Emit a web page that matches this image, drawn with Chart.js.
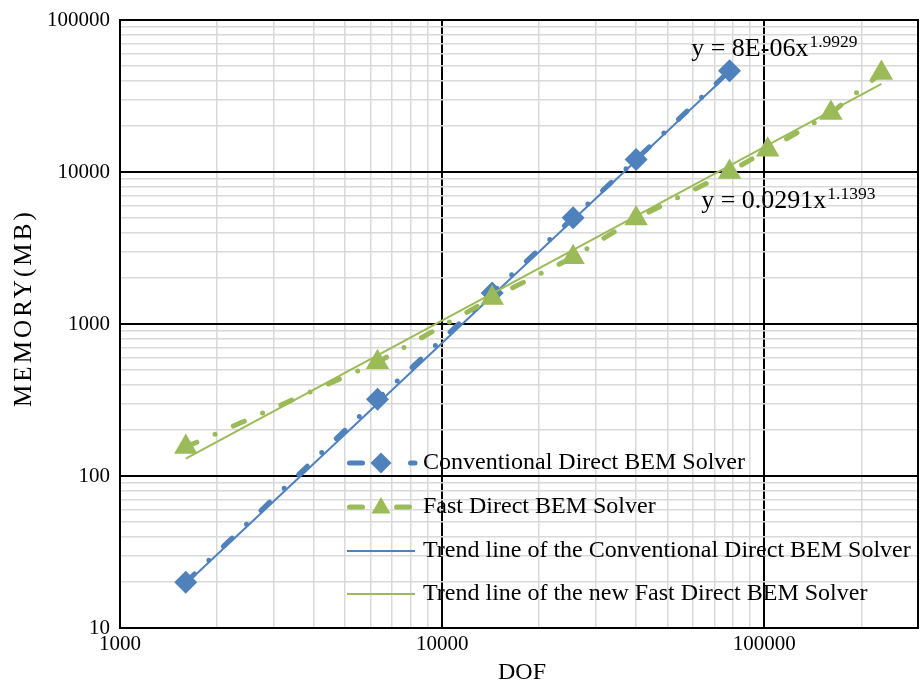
<!DOCTYPE html>
<html><head><meta charset="utf-8">
<script src="https://cdn.jsdelivr.net/npm/chart.js@4/dist/chart.umd.min.js"></script>
<style>html,body{margin:0;padding:0;background:#fff;}canvas{display:block;}</style>
</head><body>
<canvas id="c" width="923" height="684"></canvas>
<script>
// ---- data ----
const conventionalDOF = [1600, 6300, 14300, 25500, 40000, 78000];
const conventionalMB  = [20, 320, 1600, 5000, 12100, 46300];
const fastDOF = [1600, 6300, 14300, 25500, 40000, 78000, 102500, 161000, 231000];
const fastMB  = [155, 560, 1480, 2750, 4950, 10000, 14000, 24400, 44800];
const convTrendDOF = [1600, 78000];
const convTrendMB  = [19.5, 45000];
const fastTrendDOF = [1600, 231000];
const fastTrendMB  = [130, 38000];
const seriesNames = [
  'Conventional Direct BEM Solver',
  'Fast Direct BEM Solver',
  'Trend line of the Conventional Direct BEM Solver',
  'Trend line of the new Fast Direct BEM Solver'
];
const xTickLabels = ['1000', '10000', '100000'];
const yTickLabels = ['10', '100', '1000', '10000', '100000'];
const xTitle = 'DOF';
const yTitle = 'MEMORY(MB)';
const equationMain = ['y = 8E-06x', 'y = 0.0291x'];
const equationExp  = ['1.9929', '1.1393'];
const equationAnchorDOF = [59300, 63700];
const equationAnchorMB  = [57900, 5800];

// ---- styles ----
const BLUE = '#4F81BD', GREEN = '#9BBB59';
const SERIF = '"Liberation Serif", "Times New Roman", serif';
const DASH = [12, 20, 0, 20];

function pts(xs, ys) { return xs.map((x, i) => ({ x: x, y: ys[i] })); }
function isPow10(v) { const l = Math.log10(v); return Math.abs(l - Math.round(l)) < 1e-9; }
function gridValues(min, max) {
  const out = [];
  for (let e = Math.floor(Math.log10(min)); e <= Math.ceil(Math.log10(max)); e++) {
    for (let m = 1; m <= 9; m++) {
      const v = Math.round(m * Math.pow(10, e));
      if (v >= min - 1e-9 && v <= max + 1e-9) out.push(v);
    }
  }
  return out;
}
function zeroPad(s) { s.paddingLeft = 0; s.paddingRight = 0; s.paddingTop = 0; s.paddingBottom = 0; }

const datasets = [
  { label: seriesNames[0], data: pts(conventionalDOF, conventionalMB), showLine: true,
    borderColor: BLUE, backgroundColor: BLUE, borderWidth: 5, borderDash: DASH, borderCapStyle: 'round',
    pointStyle: 'rectRot', pointRadius: 11.5, pointBackgroundColor: BLUE, pointBorderWidth: 0, order: 4 },
  { label: seriesNames[1], data: pts(fastDOF, fastMB), showLine: true,
    borderColor: GREEN, backgroundColor: GREEN, borderWidth: 5, borderDash: DASH, borderCapStyle: 'round',
    pointStyle: 'triangle', pointRadius: 13.5, pointBackgroundColor: GREEN, pointBorderWidth: 0, order: 2 },
  { label: seriesNames[2], data: pts(convTrendDOF, convTrendMB), showLine: true,
    borderColor: BLUE, borderWidth: 2, pointRadius: 0, order: 3 },
  { label: seriesNames[3], data: pts(fastTrendDOF, fastTrendMB), showLine: true,
    borderColor: GREEN, borderWidth: 2, pointRadius: 0, order: 1 }
];
const legendDash = [[13, 24, 0, 24], [13, 17, 0, 17], [], []];

const frameAndText = {
  id: 'frameAndText',
  beforeDatasetsDraw(chart) {
    const { ctx, chartArea: a } = chart;
    ctx.save();
    ctx.strokeStyle = '#000';
    ctx.lineWidth = 2;
    ctx.strokeRect(a.left, a.top, a.right - a.left, a.bottom - a.top);
    ctx.restore();
  },
  afterDatasetsDraw(chart) {
    const { ctx } = chart;
    const xs = chart.scales.x, ys = chart.scales.y;
    ctx.save();
    // equations
    for (let i = 0; i < equationMain.length; i++) {
      const px = xs.getPixelForValue(equationAnchorDOF[i]);
      const py = ys.getPixelForValue(equationAnchorMB[i]);
      ctx.fillStyle = '#000';
      ctx.textBaseline = 'alphabetic';
      ctx.textAlign = 'left';
      ctx.font = '26px ' + SERIF;
      ctx.fillText(equationMain[i], px, py);
      const w = ctx.measureText(equationMain[i]).width;
      ctx.font = '17.5px ' + SERIF;
      ctx.fillText(equationExp[i], px + w + 1, py - 9);
    }
    // legend (inside plot area)
    const rowY = [463, 507, 551, 594];
    const x0 = 347, x1 = 415, mx = 381, tx = 423;
    datasets.forEach((ds, i) => {
      const y = rowY[i];
      ctx.save();
      ctx.strokeStyle = ds.borderColor;
      ctx.lineWidth = ds.borderWidth;
      ctx.lineCap = ds.borderCapStyle || 'butt';
      ctx.setLineDash(legendDash[i]);
      ctx.beginPath();
      ctx.moveTo(x0 + (ds.borderDash ? 2.5 : 0), y);
      ctx.lineTo(x1, y);
      ctx.stroke();
      ctx.restore();
      if (ds.pointRadius > 0) {
        ctx.save();
        ctx.fillStyle = ds.pointBackgroundColor;
        ctx.strokeStyle = ds.pointBackgroundColor;
        ctx.lineWidth = 0.01;
        Chart.helpers.drawPoint(ctx, { pointStyle: ds.pointStyle, radius: ds.pointStyle === 'triangle' ? 11 : 10.5, rotation: 0, borderWidth: 0 }, mx, y + (ds.pointStyle === 'triangle' ? 1 : 0));
        ctx.restore();
      }
      ctx.fillStyle = '#000';
      ctx.font = '24px ' + SERIF;
      ctx.textAlign = 'left';
      ctx.textBaseline = 'middle';
      ctx.fillText(ds.label, tx, y);
    });
    // axis titles
    ctx.fillStyle = '#000';
    ctx.font = '24px ' + SERIF;
    ctx.textAlign = 'center';
    ctx.textBaseline = 'middle';
    ctx.fillText(xTitle, 522, 673);
    ctx.save();
    ctx.font = '25px ' + SERIF;
    ctx.translate(24, 308);
    ctx.rotate(-Math.PI / 2);
    const w0 = ctx.measureText(yTitle).width;
    const sp = Math.max(0, (198 - w0) / yTitle.length);
    if ('letterSpacing' in ctx) {
      ctx.letterSpacing = sp.toFixed(2) + 'px';
      ctx.textAlign = 'left';
      ctx.fillText(yTitle, -99, 0);
    } else {
      ctx.fillText(yTitle, 0, 0);
    }
    ctx.restore();
    ctx.restore();
  }
};

const tickFont = { family: SERIF, size: 21 };
new Chart(document.getElementById('c'), {
  type: 'scatter',
  data: { datasets: datasets },
  options: {
    responsive: false,
    animation: false,
    events: [],
    layout: { autoPadding: false, padding: { left: 0, right: 5, top: 20, bottom: 0 } },
    scales: {
      x: {
        type: 'logarithmic', min: 1000, max: 300000,
        afterBuildTicks: s => { s.ticks = gridValues(s.min, s.max).map(v => ({ value: v, major: isPow10(v) })); },
        afterFit: s => { s.height = 56; zeroPad(s); },
        border: { display: false },
        grid: { drawTicks: false, color: c => isPow10(c.tick.value) ? '#000' : '#d9d9d9', lineWidth: c => isPow10(c.tick.value) ? 2 : 1.5 },
        ticks: { autoSkip: false, maxRotation: 0, minRotation: 0, padding: 4, color: '#000', font: tickFont,
          callback: v => xTickLabels.includes(String(v)) ? String(v) : '' }
      },
      y: {
        type: 'logarithmic', min: 10, max: 100000,
        afterBuildTicks: s => { s.ticks = gridValues(s.min, s.max).map(v => ({ value: v, major: isPow10(v) })); },
        afterFit: s => { s.width = 120; zeroPad(s); },
        border: { display: false },
        grid: { drawTicks: false, color: c => isPow10(c.tick.value) ? '#000' : '#d9d9d9', lineWidth: c => isPow10(c.tick.value) ? 2 : 1.5 },
        ticks: { autoSkip: false, padding: 10, color: '#000', font: tickFont,
          callback: v => yTickLabels.includes(String(v)) ? String(v) : '' }
      }
    },
    plugins: { legend: { display: false }, tooltip: { enabled: false } }
  },
  plugins: [frameAndText]
});
</script>
</body></html>
